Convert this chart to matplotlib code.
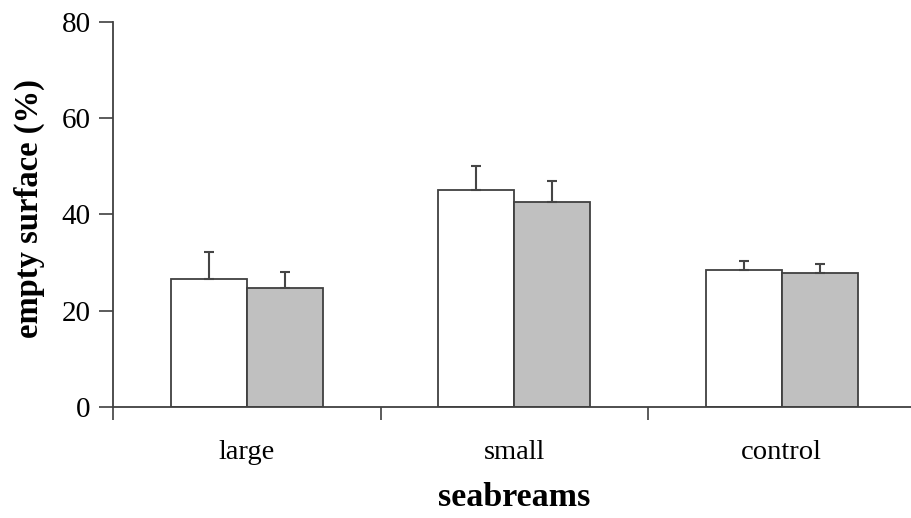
import matplotlib
matplotlib.use("Agg")
import matplotlib.pyplot as plt
import numpy as np

categories = ["large", "small", "control"]
white_vals = [26.5, 45.0, 28.4]
white_err = [5.6, 5.0, 2.0]
gray_vals = [24.6, 42.6, 27.8]
gray_err = [3.5, 4.3, 1.9]
yticks = [0, 20, 40, 60, 80]

plt.rcParams['font.family'] = ['Liberation Serif', 'DejaVu Serif']

fig = plt.figure(figsize=(9.12, 5.18), dpi=100)
ax = fig.add_axes([113/912, 1-406.7/518, (915.5-113)/912, (406.7-22)/518])

x = np.arange(len(categories))
w = 0.284
edge = '#404040'
ax.bar(x - w/2, white_vals, w, color='white', edgecolor=edge, linewidth=1.3, zorder=2)
ax.bar(x + w/2, gray_vals, w, color='#c0c0c0', edgecolor=edge, linewidth=1.3, zorder=2)
ax.errorbar(x - w/2, white_vals, yerr=[np.zeros(3), white_err], fmt='none',
            ecolor='#454545', elinewidth=1.5, capsize=3.5, capthick=1.5, zorder=3)
ax.errorbar(x + w/2, gray_vals, yerr=[np.zeros(3), gray_err], fmt='none',
            ecolor='#454545', elinewidth=1.5, capsize=3.5, capthick=1.5, zorder=3)

ax.set_xlim(-0.5, 2.5)
ax.set_ylim(0, 80)
ax.set_yticks(yticks)
ax.set_yticklabels([str(v) for v in yticks], fontsize=21)

ax.set_xticks([-0.5, 0.5, 1.5, 2.5])
ax.set_xticklabels([])
ax.set_xticks(x, minor=True)
ax.set_xticklabels(categories, minor=True, fontsize=20.5)
ax.tick_params(axis='x', which='minor', length=0, pad=24)
ax.tick_params(axis='x', which='major', length=9, width=1.2, color='#404040')
ax.tick_params(axis='y', length=10, width=1.2, color='#404040', pad=6)

for s in ['top', 'right']:
    ax.spines[s].set_visible(False)
for s in ['left', 'bottom']:
    ax.spines[s].set_color('#404040')
    ax.spines[s].set_linewidth(1.3)
ax.spines['left'].set_bounds(0, 80)

ax.set_xlabel('seabreams', fontsize=24.5, fontweight='bold', labelpad=12)
ax.set_ylabel('empty surface (%)', fontsize=23.5, fontweight='bold')
ax.yaxis.set_label_coords(-0.085, 0.515)

fig.savefig('out.png', dpi=100)
